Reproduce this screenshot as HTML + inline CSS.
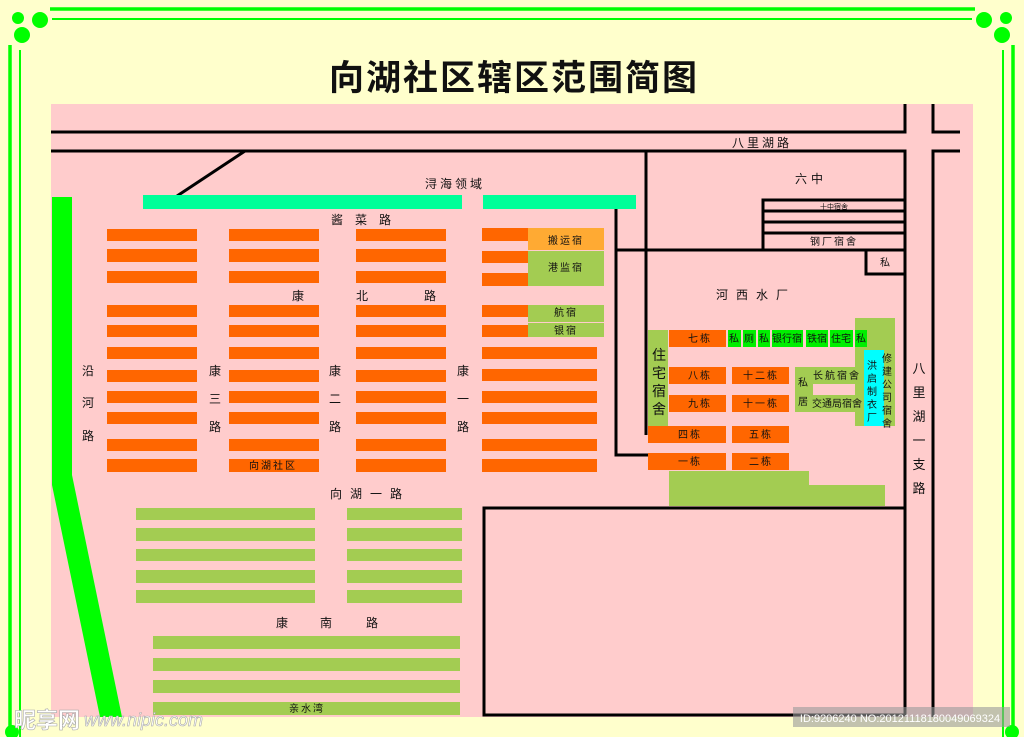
<!DOCTYPE html>
<html><head><meta charset="utf-8"><style>
html,body{margin:0;padding:0;background:#ffffcc;}
svg{display:block}
text{font-family:"Liberation Sans","Noto Sans CJK SC","WenQuanYi Zen Hei",sans-serif;fill:#111;}
</style></head><body>
<svg width="1024" height="737" viewBox="0 0 1024 737" xmlns="http://www.w3.org/2000/svg">
<rect width="1024" height="737" fill="#ffffcc"/>
<!-- frame -->
<g stroke="#00ff00" fill="none">
<path d="M50 9 H975 M1013 45 V737 M10 45 V737" stroke-width="3.5"/>
<path d="M52 19 H972 M1003 50 V737 M20 50 V737" stroke-width="2"/>
</g>
<g fill="#00ff00">
<circle cx="22" cy="35" r="8"/><circle cx="40" cy="20" r="8"/><circle cx="18" cy="18" r="6"/>
<circle cx="1002" cy="35" r="8"/><circle cx="984" cy="20" r="8"/><circle cx="1006" cy="18" r="6"/>
<circle cx="12" cy="732" r="7"/><circle cx="1012" cy="732" r="7"/>
</g>
<text x="514" y="90" font-size="35" font-weight="bold" text-anchor="middle" letter-spacing="2">向湖社区辖区范围简图</text>
<!-- pink area -->
<rect x="51" y="104" width="922" height="613" fill="#ffcccc"/>
<rect x="40" y="197" width="11" height="290" fill="#ffffcc"/>
<polygon points="52,197 72,197 72,475 122,717 100,717 52,485" fill="#00ff00"/>
<!-- roads lines -->
<g stroke="#000" stroke-width="3" fill="none">
<path d="M51 132 H905 V104 M933 104 V132 H960"/>
<path d="M51 151 H905 V715 M960 151 H933 V717"/>
<path d="M245 151 L177 196"/>
<path d="M646 151 V435"/>
<path d="M616 209 V455 H648"/>
<path d="M616 250 H905"/>
<path d="M763 250 V200 H905 M763 211 H905 M763 222 H905 M763 233 H905"/>
<path d="M866 250 V274 H905"/>
<rect x="484" y="508" width="421" height="207"/>
</g>
<rect x="143" y="195" width="319" height="14" fill="#00ff99"/>
<rect x="483" y="195" width="153" height="14" fill="#00ff99"/>
<!-- orange rows -->
<g fill="#ff6600">
<g id="r">
<rect x="107" y="229" width="90" height="12"/><rect x="107" y="249" width="90" height="13"/><rect x="107" y="271" width="90" height="12"/>
<rect x="107" y="305" width="90" height="12"/><rect x="107" y="325" width="90" height="12"/><rect x="107" y="347" width="90" height="12"/>
<rect x="107" y="370" width="90" height="12"/><rect x="107" y="391" width="90" height="12"/><rect x="107" y="412" width="90" height="12"/>
<rect x="107" y="439" width="90" height="12"/><rect x="107" y="459" width="90" height="13"/>
</g>
<use href="#r" x="122"/><use href="#r" x="249"/>
<rect x="482" y="228" width="46" height="13"/><rect x="482" y="251" width="46" height="12"/><rect x="482" y="273" width="46" height="13"/>
<rect x="482" y="305" width="46" height="12"/><rect x="482" y="325" width="46" height="12"/>
<rect x="482" y="347" width="115" height="12"/><rect x="482" y="369" width="115" height="12"/><rect x="482" y="391" width="115" height="12"/>
<rect x="482" y="412" width="115" height="12"/><rect x="482" y="439" width="115" height="12"/><rect x="482" y="459" width="115" height="13"/>
</g>
<rect x="528" y="228" width="76" height="22" fill="#ffaa33"/>
<g fill="#a3cc52">
<rect x="528" y="251" width="76" height="35"/>
<rect x="528" y="305" width="76" height="17"/><rect x="528" y="323" width="76" height="14"/>
</g>
<!-- lower left green rows -->
<g fill="#a3cc52">
<rect x="136" y="508" width="179" height="12"/><rect x="136" y="528" width="179" height="13"/><rect x="136" y="549" width="179" height="12"/><rect x="136" y="570" width="179" height="13"/><rect x="136" y="590" width="179" height="13"/>
<rect x="347" y="508" width="115" height="12"/><rect x="347" y="528" width="115" height="13"/><rect x="347" y="549" width="115" height="12"/><rect x="347" y="570" width="115" height="13"/><rect x="347" y="590" width="115" height="13"/>
<rect x="153" y="636" width="307" height="13"/><rect x="153" y="658" width="307" height="13"/><rect x="153" y="680" width="307" height="13"/><rect x="153" y="702" width="307" height="13"/>
</g>
<!-- water plant -->
<g fill="#a3cc52">
<rect x="648" y="330" width="20" height="96"/>
<rect x="855" y="318" width="40" height="108"/>
<rect x="795" y="367" width="67" height="17"/><rect x="795" y="395" width="67" height="17"/><rect x="795" y="367" width="18" height="45"/>
<rect x="669" y="471" width="140" height="35"/><rect x="669" y="485" width="216" height="21"/>
</g>
<rect x="864" y="350" width="20" height="76" fill="#00ffff"/>
<g fill="#00ee00">
<rect x="728" y="330" width="13" height="17"/><rect x="743" y="330" width="13" height="17"/><rect x="758" y="330" width="12" height="17"/>
<rect x="772" y="330" width="31" height="17"/><rect x="806" y="330" width="22" height="17"/><rect x="830" y="330" width="23" height="17"/><rect x="855" y="330" width="12" height="17"/>
</g>
<g fill="#ff6600">
<rect x="669" y="330" width="57" height="17"/>
<rect x="669" y="367" width="57" height="17"/><rect x="732" y="367" width="57" height="17"/>
<rect x="669" y="395" width="57" height="17"/><rect x="732" y="395" width="57" height="17"/>
<rect x="648" y="426" width="78" height="17"/><rect x="732" y="426" width="57" height="17"/>
<rect x="648" y="453" width="78" height="17"/><rect x="732" y="453" width="57" height="17"/>
</g>
<!-- labels -->
<g font-size="12" text-anchor="middle">
<text x="762" y="147" letter-spacing="3">八里湖路</text>
<text x="455" y="188" letter-spacing="3">浔海领域</text>
<text x="367" y="224" letter-spacing="12">酱菜路</text>
<text x="298" y="300">康</text><text x="362" y="300">北</text><text x="430" y="300">路</text>
<text x="88" y="375">沿</text><text x="88" y="407">河</text><text x="88" y="440">路</text>
<text x="215" y="375">康</text><text x="215" y="403">三</text><text x="215" y="431">路</text>
<text x="335" y="375">康</text><text x="335" y="403">二</text><text x="335" y="431">路</text>
<text x="463" y="375">康</text><text x="463" y="403">一</text><text x="463" y="431">路</text>
<text x="370" y="498" letter-spacing="8">向湖一路</text>
<text x="282" y="627">康</text><text x="326" y="627">南</text><text x="372" y="627">路</text>
<text x="811" y="183" letter-spacing="4">六中</text>
<text x="756" y="299" letter-spacing="8">河西水厂</text>
<text x="919" y="373" font-size="13">八</text><text x="919" y="397" font-size="13">里</text><text x="919" y="421" font-size="13">湖</text><text x="919" y="445" font-size="13">一</text><text x="919" y="469" font-size="13">支</text><text x="919" y="493" font-size="13">路</text>
<text x="659" y="360" font-size="14">住</text><text x="659" y="378" font-size="14">宅</text><text x="659" y="396" font-size="14">宿</text><text x="659" y="414" font-size="14">舍</text>
</g>
<g font-size="10" text-anchor="middle">
<text x="566" y="244" letter-spacing="2">搬运宿</text>
<text x="566" y="271" letter-spacing="2">港监宿</text>
<text x="566" y="316" letter-spacing="2">航宿</text>
<text x="566" y="334" letter-spacing="2">银宿</text>
<text x="273" y="469" letter-spacing="2">向湖社区</text>
<text x="307" y="712" letter-spacing="2">亲水湾</text>
<text x="834" y="209" font-size="7">十中宿舍</text>
<text x="834" y="245" letter-spacing="2">钢厂宿舍</text>
<text x="885" y="266">私</text>
<text x="700" y="342" letter-spacing="2">七栋</text>
<text x="734" y="342">私</text><text x="749" y="342">厕</text><text x="764" y="342">私</text><text x="787" y="342">银行宿</text><text x="817" y="342">铁宿</text><text x="841" y="342">住宅</text><text x="861" y="342">私</text>
<text x="700" y="379" letter-spacing="2">八栋</text><text x="761" y="379" letter-spacing="2">十二栋</text>
<text x="700" y="407" letter-spacing="2">九栋</text><text x="761" y="407" letter-spacing="2">十一栋</text>
<text x="690" y="438" letter-spacing="2">四栋</text><text x="761" y="438" letter-spacing="2">五栋</text>
<text x="690" y="465" letter-spacing="2">一栋</text><text x="761" y="465" letter-spacing="2">二栋</text>
<text x="837" y="379" letter-spacing="2">长航宿舍</text><text x="837" y="407">交通局宿舍</text>
<text x="803" y="386">私</text><text x="803" y="405">居</text>
<text x="872" y="369">洪</text><text x="872" y="382">启</text><text x="872" y="395">制</text><text x="872" y="408">衣</text><text x="872" y="421">厂</text>
<text x="887" y="362">修</text><text x="887" y="375">建</text><text x="887" y="388">公</text><text x="887" y="401">司</text><text x="887" y="414">宿</text><text x="887" y="427">舍</text>
</g>
<!-- watermark -->
<rect x="793" y="707" width="217" height="20" fill="#999" opacity="0.6"/>
<text x="900" y="722" font-size="11" text-anchor="middle" style="fill:#fff">ID:9206240 NO:20121118180049069324</text>
<text x="14" y="728" font-size="22" font-weight="bold" style="fill:#fff;stroke:#aaa;stroke-width:0.6">昵享网</text>
<text x="84" y="726" font-size="18" font-style="italic" style="fill:#fff;stroke:#aaa;stroke-width:0.6">www.nipic.com</text>
</svg>
</body></html>
